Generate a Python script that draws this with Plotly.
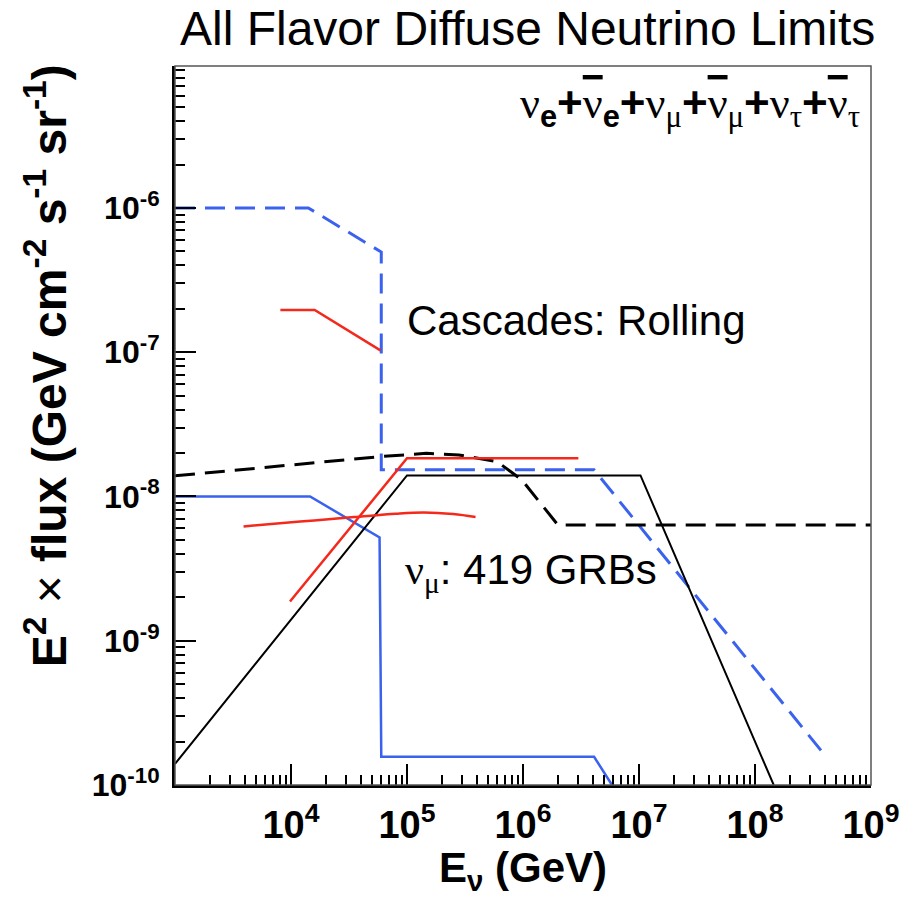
import plotly.graph_objects as go

# ---- data ----
blue_dash_E = [1e3, 1.41e4, 6.0e4, 6.0e4, 4.1e6, 4.1e8]
blue_dash_F = [1e-6, 1e-6, 4.95e-7, 1.53e-8, 1.53e-8, 1.57e-10]

blue_solid_E = [1e3, 1.46e4, 5.8e4, 6.0e4, 4.1e6, 5.85e6]
blue_solid_F = [1e-8, 1e-8, 5.2e-9, 1.57e-10, 1.57e-10, 1e-10]

black_solid_E = [1e3, 1e5, 1.03e7, 1.45e8]
black_solid_F = [1.4e-10, 1.4e-8, 1.4e-8, 1e-10]

black_dash_E = [1e3, 5.9e4, 1.47e5, 2.8e5, 6.0e5, 9.8e5, 2.0e6, 1e9]
black_dash_F = [1.39e-8, 1.89e-8, 1.99e-8, 1.94e-8, 1.74e-8, 1.3e-8, 6.34e-9, 6.34e-9]

red_trap_E = [9.8e3, 1e5, 3e6]
red_trap_F = [1.87e-9, 1.84e-8, 1.84e-8]

red_curve_E = [3.9e3, 1.2e4, 3.5e4, 8e4, 1.4e5, 2.5e5, 3.9e5]
red_curve_F = [6.2e-9, 6.7e-9, 7.2e-9, 7.6e-9, 7.75e-9, 7.55e-9, 7.2e-9]

red_short_E = [8.1e3, 1.6e4, 5.9e4]
red_short_F = [1.96e-7, 1.96e-7, 1.03e-7]

x_major = [1e3, 1e4, 1e5, 1e6, 1e7, 1e8, 1e9]
x_labels = ["", "10<sup>4</sup>", "10<sup>5</sup>", "10<sup>6</sup>",
            "10<sup>7</sup>", "10<sup>8</sup>", "10<sup>9</sup>"]
y_major = [1e-10, 1e-9, 1e-8, 1e-7, 1e-6, 1e-5]
y_labels = ["10<sup>-10</sup>", "10<sup>-9</sup>", "10<sup>-8</sup>",
            "10<sup>-7</sup>", "10<sup>-6</sup>", ""]

BLUE = "#3a62ee"
RED = "#f5281c"

x_minor = [k * d for d in x_major[:-1] for k in range(2, 10)]
y_minor = [k * d for d in y_major[:-1] for k in range(2, 10)]

fig = go.Figure()
fig.add_trace(go.Scatter(x=blue_dash_E, y=blue_dash_F, mode="lines",
                         line=dict(color=BLUE, width=3, dash="20px,10px")))
fig.add_trace(go.Scatter(x=black_dash_E, y=black_dash_F, mode="lines",
                         line=dict(color="black", width=3, dash="20px,10px")))
fig.add_trace(go.Scatter(x=blue_solid_E, y=blue_solid_F, mode="lines",
                         line=dict(color=BLUE, width=2.5)))
fig.add_trace(go.Scatter(x=black_solid_E, y=black_solid_F, mode="lines",
                         line=dict(color="black", width=2)))
fig.add_trace(go.Scatter(x=red_trap_E, y=red_trap_F, mode="lines",
                         line=dict(color=RED, width=2.5)))
fig.add_trace(go.Scatter(x=red_curve_E, y=red_curve_F, mode="lines",
                         line=dict(color=RED, width=2.5, shape="spline")))
fig.add_trace(go.Scatter(x=red_short_E, y=red_short_F, mode="lines",
                         line=dict(color=RED, width=2.5)))

axis_common = dict(
    type="log", showgrid=False, zeroline=False, showline=True,
    linecolor="black", linewidth=3, ticks="inside", ticklen=21,
    tickwidth=2, tickcolor="black", tickmode="array",
)
fig.update_xaxes(**axis_common, range=[3, 9], tickvals=x_major, ticktext=x_labels,
                 tickfont=dict(family="Liberation Sans", size=38, color="black", weight="bold"),
                 ticklabelstandoff=4,
                 minor=dict(tickmode="array", tickvals=x_minor, ticks="inside",
                            ticklen=10, tickwidth=2, tickcolor="black", showgrid=False))
fig.update_yaxes(**axis_common, range=[-10, -5.016], tickvals=y_major, ticktext=y_labels,
                 tickfont=dict(family="Liberation Sans", size=32, color="black", weight="bold"),
                 ticklabelstandoff=6,
                 minor=dict(tickmode="array", tickvals=y_minor, ticks="inside",
                            ticklen=10, tickwidth=2, tickcolor="black", showgrid=False))

# frame (thin top/right border)
fig.add_shape(type="rect", xref="paper", yref="paper", x0=0, y0=0, x1=1, y1=1,
              line=dict(color="#555555", width=1.5), layer="above")

ann = []
ann.append(dict(text="All Flavor Diffuse Neutrino Limits", xref="paper", yref="paper",
                x=0.506, y=1.052, xanchor="center", yanchor="middle", showarrow=False,
                font=dict(family="Liberation Sans", size=48, color="black")))
ann.append(dict(text="E<sup>2</sup> <span style='font-weight:normal'>×</span> flux (GeV cm<sup>-2</sup> s<sup>-1</sup> sr<sup>-1</sup>)",
                xref="paper", yref="paper", x=-0.186, y=0.583, textangle=-90,
                xanchor="center", yanchor="middle", showarrow=False,
                font=dict(family="Liberation Sans", size=48, color="black", weight="bold")))
ann.append(dict(text="E<sub>ν</sub> (GeV)", xref="paper", yref="paper",
                x=0.5, y=-0.119, xanchor="center", yanchor="middle", showarrow=False,
                font=dict(family="Liberation Sans", size=42, color="black", weight="bold")))
ann.append(dict(text="Cascades: Rolling", x=4.98, y=-6.78, xanchor="left", yanchor="middle",
                showarrow=False, font=dict(family="Liberation Sans", size=42, color="black")))
ann.append(dict(text="<span style='font-family:Liberation Serif'>ν<sub>μ</sub></span>: 419 GRBs",
                x=4.965, y=-8.53, xanchor="left", yanchor="middle",
                showarrow=False, font=dict(family="Liberation Sans", size=42, color="black")))
P = "<b><span style='font-family:Liberation Sans'>+</span></b>"
E = "<sub><b><span style='font-family:Liberation Sans'>e</span></b></sub>"
nb = "<span style='text-decoration:overline'>ν</span>"
flav = ("ν" + E + P + nb + E + P + "ν<sub>μ</sub>" + P + nb + "<sub>μ</sub>" + P +
        "ν<sub>τ</sub>" + P + nb + "<sub>τ</sub>")
ann.append(dict(text=flav, xref="paper", yref="paper", x=0.987, y=0.945,
                xanchor="right", yanchor="middle", showarrow=False,
                font=dict(family="Liberation Serif", size=44, color="black")))
fig.update_layout(annotations=ann)

fig.update_layout(width=912, height=900, margin=dict(l=175, r=31, t=66, b=115),
                  paper_bgcolor="white", plot_bgcolor="white", showlegend=False)
fig.write_html("out.html")
